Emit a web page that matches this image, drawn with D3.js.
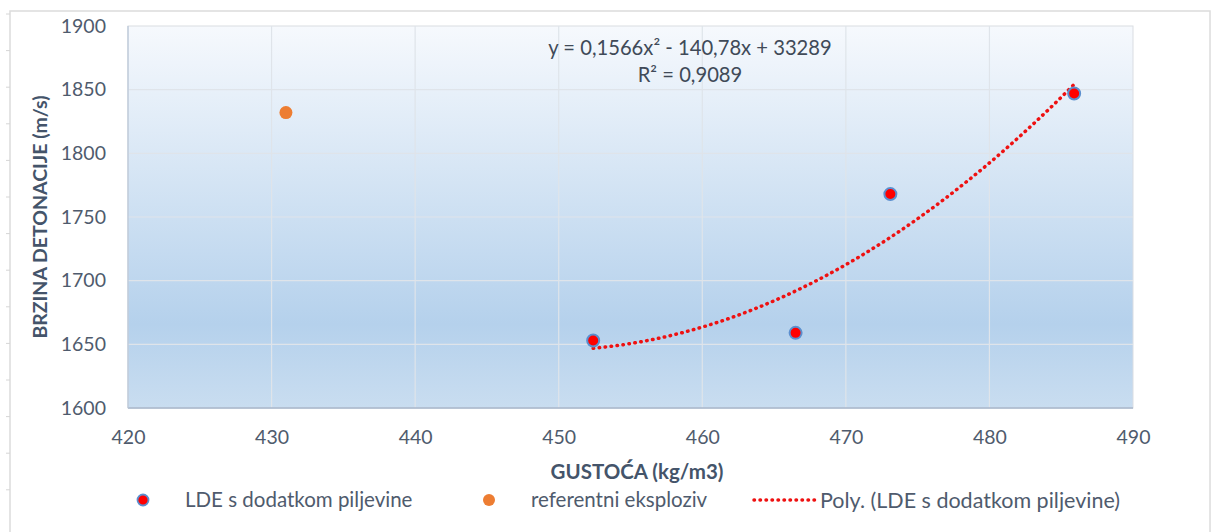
<!DOCTYPE html>
<html><head><meta charset="utf-8">
<script src="https://cdn.jsdelivr.net/npm/d3@7"></script>
<style>body{margin:0;background:#fff;}svg{display:block;}</style>
</head><body>
<svg id="c" width="1212" height="532"></svg>
<script>
const ldeX = [452.4, 466.5, 473.1, 485.9];
const ldeY = [1653, 1659, 1768, 1847];
const refX = [431.0];
const refY = [1832];
const xTicks = [420, 430, 440, 450, 460, 470, 480, 490];
const yTicks = [1600, 1650, 1700, 1750, 1800, 1850, 1900];
const equationText = "y = 0,1566x² - 140,78x + 33289";
const r2Text = "R² = 0,9089";
const legendLabels = ["LDE s dodatkom piljevine", "referentni eksploziv", "Poly. (LDE s dodatkom piljevine)"];
const xTitle = "GUSTOĆA (kg/m3)";
const yTitle = "BRZINA DETONACIJE (m/s)";

const FONT = "Lato, 'Open Sans', sans-serif";
const TXT = "#4f5b6d";
const svg = d3.select("#c");
const L = 128, R = 1133, T = 26, B = 408;
const x = d3.scaleLinear().domain([420, 490]).range([L, R]);
const y = d3.scaleLinear().domain([1600, 1900]).range([B, T]);

// chart border
svg.append("rect").attr("x", 10).attr("y", 11).attr("width", 1200).attr("height", 530)
  .attr("fill", "none").attr("stroke", "#dcdcdc").attr("stroke-width", 1.5);
// faint ruler marks
svg.append("g").selectAll("line").data(d3.range(0, 14)).join("line")
  .attr("x1", 6).attr("x2", 10).attr("y1", d => 14 + 36.6 * d).attr("y2", d => 14 + 36.6 * d)
  .attr("stroke", "#d6d6d6").attr("stroke-width", 1);

const defs = svg.append("defs");
const g = defs.append("linearGradient").attr("id", "bg").attr("x1", 0).attr("y1", 0).attr("x2", 0).attr("y2", 1);
g.append("stop").attr("offset", "0%").attr("stop-color", "#f6f9fd");
g.append("stop").attr("offset", "78%").attr("stop-color", "#b5d1ec");
g.append("stop").attr("offset", "100%").attr("stop-color", "#c9ddf0");

svg.append("rect").attr("x", L).attr("y", T).attr("width", R - L).attr("height", B - T)
  .attr("fill", "url(#bg)").attr("stroke", "#dadde2").attr("stroke-width", 1);

// gridlines
svg.append("g").selectAll("line").data(xTicks.slice(1, -1)).join("line")
  .attr("x1", d => x(d)).attr("x2", d => x(d)).attr("y1", T).attr("y2", B)
  .attr("stroke", "#dfe4ea").attr("stroke-width", 1.2);
svg.append("g").selectAll("line").data(yTicks.slice(1, -1)).join("line")
  .attr("x1", L).attr("x2", R).attr("y1", d => y(d)).attr("y2", d => y(d))
  .attr("stroke", "#dfe4ea").attr("stroke-width", 1.2);
// axis lines
svg.append("line").attr("x1", L).attr("x2", R).attr("y1", B).attr("y2", B).attr("stroke", "#a7b6cb").attr("stroke-width", 1.5);
svg.append("line").attr("x1", L).attr("x2", L).attr("y1", T).attr("y2", B).attr("stroke", "#b9c6d8").attr("stroke-width", 1.2);

// axes via d3
const xAxis = svg.append("g").attr("transform", `translate(0,${B})`)
  .call(d3.axisBottom(x).tickValues(xTicks).tickSize(0).tickPadding(22).tickFormat(d3.format("d")));
const yAxis = svg.append("g").attr("transform", `translate(${L},0)`)
  .call(d3.axisLeft(y).tickValues(yTicks).tickSize(0).tickPadding(22).tickFormat(d3.format("d")));
[xAxis, yAxis].forEach(a => {
  a.select(".domain").remove();
  a.selectAll("text").attr("font-family", FONT).attr("font-size", 19.5).attr("fill", TXT);
});

// titles
svg.append("text").attr("x", 637).attr("y", 479).attr("text-anchor", "middle")
  .attr("font-family", FONT).attr("font-weight", "bold").attr("font-size", 20.5).attr("fill", "#44546a").text(xTitle);
svg.append("text").attr("transform", `translate(47,${(T + B) / 2}) rotate(-90)`).attr("text-anchor", "middle")
  .attr("font-family", FONT).attr("font-weight", "bold").attr("font-size", 19.5).attr("fill", "#44546a").text(yTitle);

// quadratic least squares fit
function polyFit(xs, ys) {
  const x0 = d3.mean(xs);
  const S = [0, 0, 0, 0, 0], Sy = [0, 0, 0];
  xs.forEach((xv, i) => {
    const t = xv - x0;
    for (let k = 0; k < 5; k++) S[k] += Math.pow(t, k);
    for (let k = 0; k < 3; k++) Sy[k] += ys[i] * Math.pow(t, k);
  });
  const A = [[S[0], S[1], S[2], Sy[0]], [S[1], S[2], S[3], Sy[1]], [S[2], S[3], S[4], Sy[2]]];
  for (let i = 0; i < 3; i++) {
    for (let j = i + 1; j < 3; j++) {
      const f = A[j][i] / A[i][i];
      for (let k = i; k < 4; k++) A[j][k] -= f * A[i][k];
    }
  }
  const c = [0, 0, 0];
  for (let i = 2; i >= 0; i--) {
    let s = A[i][3];
    for (let k = i + 1; k < 3; k++) s -= A[i][k] * c[k];
    c[i] = s / A[i][i];
  }
  return xv => c[0] + c[1] * (xv - x0) + c[2] * (xv - x0) * (xv - x0);
}
const fit = polyFit(ldeX, ldeY);
const xs = d3.range(0, 61).map(i => ldeX[0] + (ldeX[ldeX.length - 1] - ldeX[0]) * i / 60);
const trend = xs.map(v => [v, fit(v)]);

svg.append("path").datum(trend)
  .attr("d", d3.line().x(d => x(d[0])).y(d => y(d[1])))
  .attr("fill", "none").attr("stroke", "#ee1111").attr("stroke-width", 3.5)
  .attr("stroke-dasharray", "0.5 5.5").attr("stroke-linecap", "round");

// points
const lde = ldeX.map((v, i) => [v, ldeY[i]]);
const ref = refX.map((v, i) => [v, refY[i]]);
const blur = defs.append("filter").attr("id", "glow").attr("x", "-50%").attr("y", "-50%").attr("width", "200%").attr("height", "200%");
blur.append("feGaussianBlur").attr("stdDeviation", 0.6);
svg.append("g").selectAll("circle").data(lde).join("circle")
  .attr("cx", d => x(d[0])).attr("cy", d => y(d[1])).attr("r", 6)
  .attr("fill", "#ff0000").attr("stroke", "#5b8fcf").attr("stroke-width", 2).attr("filter", "url(#glow)");
svg.append("g").selectAll("circle").data(ref).join("circle")
  .attr("cx", d => x(d[0])).attr("cy", d => y(d[1])).attr("r", 6.5)
  .attr("fill", "#ed7d31").attr("filter", "url(#glow)");

// equation
svg.append("text").attr("x", 690).attr("y", 55).attr("text-anchor", "middle")
  .attr("font-family", FONT).attr("font-size", 20.2).attr("fill", "#404a58").text(equationText);
svg.append("text").attr("x", 690).attr("y", 82).attr("text-anchor", "middle")
  .attr("font-family", FONT).attr("font-size", 20.2).attr("fill", "#404a58").text(r2Text);

// legend
const ly = 500;
const leg = svg.append("g").attr("font-family", FONT).attr("font-size", 20.5).attr("fill", TXT);
leg.append("circle").attr("cx", 143).attr("cy", ly).attr("r", 5.5).attr("fill", "#ff0000").attr("stroke", "#5b8fcf").attr("stroke-width", 1.8).attr("filter", "url(#glow)");
leg.append("text").attr("x", 185).attr("y", ly).attr("dy", "0.35em").text(legendLabels[0]);
leg.append("circle").attr("cx", 489).attr("cy", ly).attr("r", 6).attr("fill", "#ed7d31").attr("filter", "url(#glow)");
leg.append("text").attr("x", 531).attr("y", ly).attr("dy", "0.35em").text(legendLabels[1]);
leg.append("line").attr("x1", 754).attr("x2", 816).attr("y1", ly).attr("y2", ly)
  .attr("stroke", "#ee1111").attr("stroke-width", 3.5).attr("stroke-dasharray", "0.5 5.5").attr("stroke-linecap", "round");
leg.append("text").attr("x", 820).attr("y", ly).attr("dy", "0.35em").attr("font-size", 21.5).text(legendLabels[2]);
</script>
</body></html>
